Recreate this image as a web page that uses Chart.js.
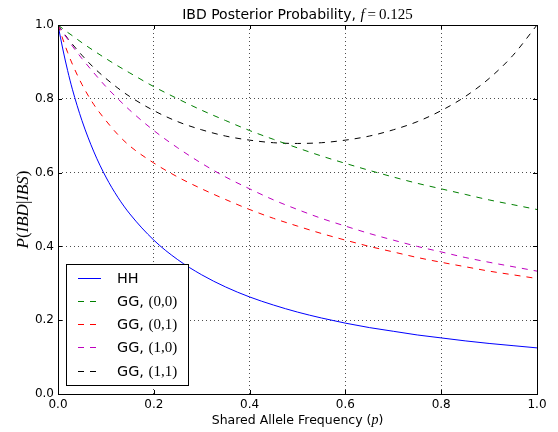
<!DOCTYPE html>
<html>
<head>
<meta charset="utf-8">
<title>IBD Posterior Probability</title>
<script src="https://cdn.jsdelivr.net/npm/chart.js@4.4.0/dist/chart.umd.min.js"></script>
<style>
    html, body { margin: 0; padding: 0; background: #fff; }
    canvas { display: block; }
</style>
</head>
<body>
<canvas id="ibdChart" width="558" height="432"></canvas>
<script>
// ===================================
// Data
// ===================================

// shared allele frequency p
const pValues = [0, 0.01, 0.02, 0.03, 0.05, 0.075, 0.1, 0.125, 0.15, 0.2, 0.25, 0.3, 0.35,
                 0.4, 0.45, 0.5, 0.55, 0.6, 0.65, 0.7, 0.75, 0.8, 0.85, 0.9, 0.95, 1.0];

const hhValues   = [1.0, 0.935, 0.877, 0.826, 0.741, 0.656, 0.588, 0.533, 0.488, 0.417, 0.364, 0.323, 0.290,
                    0.263, 0.241, 0.222, 0.206, 0.192, 0.180, 0.170, 0.160, 0.152, 0.144, 0.137, 0.131, 0.125];
const gg00Values = [1.0, 0.990, 0.980, 0.971, 0.952, 0.930, 0.909, 0.889, 0.870, 0.833, 0.800, 0.769, 0.741,
                    0.714, 0.690, 0.667, 0.645, 0.625, 0.606, 0.588, 0.571, 0.556, 0.541, 0.526, 0.513, 0.500];
const gg01Values = [1.0, 0.962, 0.926, 0.894, 0.839, 0.784, 0.741, 0.703, 0.672, 0.626, 0.588, 0.556, 0.527,
                    0.500, 0.476, 0.455, 0.435, 0.417, 0.400, 0.385, 0.370, 0.357, 0.345, 0.333, 0.323, 0.313];
const gg10Values = [1.0, 0.980, 0.962, 0.943, 0.909, 0.870, 0.833, 0.800, 0.769, 0.714, 0.667, 0.625, 0.588,
                    0.556, 0.526, 0.500, 0.476, 0.455, 0.435, 0.417, 0.400, 0.385, 0.370, 0.357, 0.345, 0.333];
const gg11Values = [1.0, 0.982, 0.964, 0.948, 0.918, 0.884, 0.855, 0.829, 0.806, 0.768, 0.738, 0.716, 0.699,
                    0.688, 0.681, 0.679, 0.681, 0.688, 0.699, 0.716, 0.738, 0.768, 0.806, 0.855, 0.918, 1.0];

const seriesLabels = ['HH', 'GG, (0,0)', 'GG, (0,1)', 'GG, (1,0)', 'GG, (1,1)'];
const seriesColors = ['#0000ff', '#008000', '#ff0000', '#bf00bf', '#000000'];
const seriesValues = [hhValues, gg00Values, gg01Values, gg10Values, gg11Values];

const xTicks = [0, 0.2, 0.4, 0.6, 0.8, 1.0];
const yTicks = [0, 0.2, 0.4, 0.6, 0.8, 1.0];

const SANS = '"DejaVu Sans", sans-serif';
const SERIF = '"Liberation Serif", "DejaVu Serif", serif';

// ===================================
// Helpers
// ===================================

// draw a row of text runs with different fonts
function drawRuns(ctx, runs, x, y, align) {
    let total = 0;
    runs.forEach(r => {
        ctx.font = r.font;
        r.w = ctx.measureText(r.text).width;
        total += r.w;
    });
    let cx = align === 'center' ? x - total / 2 : x;
    runs.forEach(r => {
        ctx.font = r.font;
        ctx.textAlign = 'left';
        ctx.fillText(r.text, cx, y);
        cx += r.w;
    });
}

// ===================================
// Decorations plugin (frame, title, labels, legend)
// ===================================

const decorations = {
    id: 'decorations',
    beforeDraw(chart) {
        const ctx = chart.ctx;
        ctx.save();
        ctx.fillStyle = '#fff';
        ctx.fillRect(0, 0, chart.width, chart.height);
        ctx.restore();
    },
    afterDraw(chart) {
        const ctx = chart.ctx;
        const a = chart.chartArea;
        const xs = chart.scales.x;
        const ys = chart.scales.y;

        ctx.save();
        ctx.strokeStyle = '#000';
        ctx.lineWidth = 1;
        ctx.setLineDash([]);

        // frame
        ctx.strokeRect(Math.round(a.left) + 0.5, Math.round(a.top) + 0.5,
                       Math.round(a.right - a.left), Math.round(a.bottom - a.top));

        // inward tick marks
        ctx.beginPath();
        xTicks.forEach(v => {
            const px = Math.round(xs.getPixelForValue(v)) + 0.5;
            ctx.moveTo(px, a.bottom); ctx.lineTo(px, a.bottom - 4);
            ctx.moveTo(px, a.top); ctx.lineTo(px, a.top + 4);
        });
        yTicks.forEach(v => {
            const py = Math.round(ys.getPixelForValue(v)) + 0.5;
            ctx.moveTo(a.left, py); ctx.lineTo(a.left + 4, py);
            ctx.moveTo(a.right, py); ctx.lineTo(a.right - 4, py);
        });
        ctx.stroke();

        ctx.fillStyle = '#000';
        ctx.textBaseline = 'alphabetic';
        const midX = (a.left + a.right) / 2;

        // title
        drawRuns(ctx, [
            { text: 'IBD Posterior Probability, ', font: '14px ' + SANS },
            { text: 'f', font: 'italic 15px ' + SERIF },
            { text: '\u2009=\u2009', font: '15px ' + SERIF },
            { text: '0.125', font: '15px ' + SERIF }
        ], midX, 19, 'center');

        // x axis label
        drawRuns(ctx, [
            { text: 'Shared Allele Frequency (', font: '12.5px ' + SANS },
            { text: 'p', font: 'italic 14px ' + SERIF },
            { text: ')', font: '12.5px ' + SANS }
        ], midX, 424, 'center');

        // y axis label
        ctx.save();
        ctx.translate(28, (a.top + a.bottom) / 2);
        ctx.rotate(-Math.PI / 2);
        drawRuns(ctx, [
            { text: 'P', font: 'italic 17px ' + SERIF },
            { text: '(', font: '17px ' + SERIF },
            { text: 'IBD', font: 'italic 17px ' + SERIF },
            { text: '|', font: '17px ' + SERIF },
            { text: 'IBS', font: 'italic 17px ' + SERIF },
            { text: ')', font: '17px ' + SERIF }
        ], 0, 0, 'center');
        ctx.restore();

        // legend
        const box = { left: 66.5, top: 264.5, right: 188.5, bottom: 385.5 };
        ctx.fillStyle = '#fff';
        ctx.fillRect(box.left, box.top, box.right - box.left, box.bottom - box.top);
        ctx.strokeStyle = '#000';
        ctx.lineWidth = 1;
        ctx.strokeRect(box.left, box.top, box.right - box.left, box.bottom - box.top);

        chart.data.datasets.forEach((ds, i) => {
            const rowY = 277.5 + i * 23.3;
            ctx.strokeStyle = ds.borderColor;
            ctx.lineWidth = 1;
            ctx.setLineDash(ds.borderDash || []);
            ctx.beginPath();
            ctx.moveTo(78, Math.round(rowY) + 0.5);
            ctx.lineTo(101, Math.round(rowY) + 0.5);
            ctx.stroke();
            ctx.setLineDash([]);

            ctx.fillStyle = '#000';
            const parts = ds.label.split(', ');
            const runs = [{ text: parts[0], font: '14.4px ' + SANS }];
            if (parts[1]) {
                runs[0].text += ', ';
                runs.push({ text: parts[1], font: '15px ' + SERIF });
            }
            drawRuns(ctx, runs, 117, rowY + 5, 'left');
        });

        ctx.restore();
    }
};

// ===================================
// Chart
// ===================================

function buildDatasets() {
    return seriesLabels.map((label, i) => ({
        label: label,
        data: pValues.map((p, j) => ({ x: p, y: seriesValues[i][j] })),
        borderColor: seriesColors[i],
        borderWidth: 1,
        borderDash: i === 0 ? [] : [6, 6],
        pointRadius: 0,
        fill: false,
        cubicInterpolationMode: 'monotone'
    }));
}

function tickAxis(values, isX) {
    return {
        type: 'linear',
        min: 0,
        max: 1,
        afterBuildTicks: scale => { scale.ticks = values.map(v => ({ value: v })); },
        afterFit: scale => {
            if (isX) scale.height = 38; else scale.width = 58;
        },
        ticks: {
            color: '#000',
            font: { family: SANS, size: 12 },
            padding: isX ? 4 : 4,
            callback: v => Number(v).toFixed(1),
            maxRotation: 0,
            autoSkip: false
        },
        grid: {
            color: '#000',
            lineWidth: 0.7,
            drawTicks: false
        },
        border: { display: false, dash: [1, 3] }
    };
}

new Chart(document.getElementById('ibdChart'), {
    type: 'line',
    data: { datasets: buildDatasets() },
    options: {
        responsive: false,
        devicePixelRatio: 1,
        animation: false,
        layout: { padding: { top: 25, right: 21, left: 0, bottom: 0 } },
        plugins: {
            legend: { display: false },
            title: { display: false },
            tooltip: { enabled: false }
        },
        scales: {
            x: tickAxis(xTicks, true),
            y: tickAxis(yTicks, false)
        }
    },
    plugins: [decorations]
});
</script>
</body>
</html>
